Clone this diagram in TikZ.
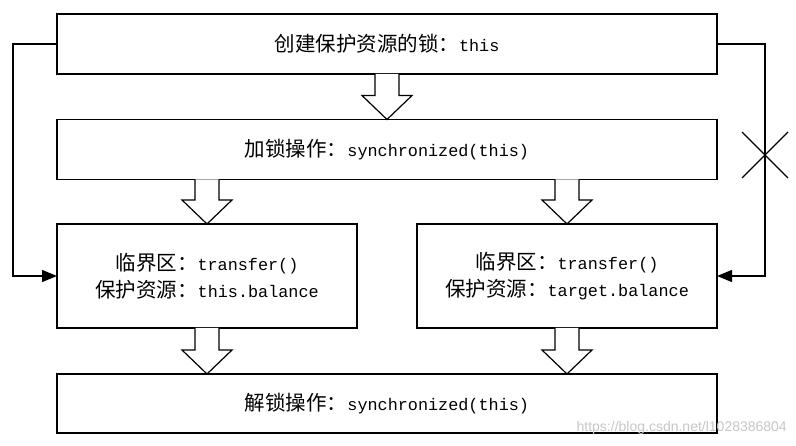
\documentclass[tikz,border=0pt]{standalone}
\usepackage{fontspec}
\setmainfont{Noto Sans CJK SC}
\newfontfamily\monof{Liberation Mono}[Scale=0.82]
\newfontfamily\wmf{Liberation Sans}
\usetikzlibrary{calc,arrows.meta}
\newcommand\lat[1]{{\monof #1}}
\newcommand\blockarr[2]{%
  \draw[blk] ($(#1)+(-12,0)$) -- ($(#2)+(-12,-24)$) -- ($(#2)+(-25,-24)$) -- (#2)
    -- ($(#2)+(25,-24)$) -- ($(#2)+(12,-24)$) -- ($(#1)+(12,0)$);}
\begin{document}
\begin{tikzpicture}[x=1pt,y=-1pt,
  box/.style={draw=black,line width=1.3pt,fill=white,inner sep=0pt,outer sep=0pt,
    minimum height=60pt,align=center,font=\fontsize{20.5}{27}\selectfont},
  blk/.style={draw=black,line width=1.2pt,fill=white,line join=miter},
  conn/.style={draw=black,line width=1.3pt,-{Triangle[length=15pt,width=12pt]}}]
\useasboundingbox (0,0) rectangle (796,446);
\fill[white] (0,0) rectangle (796,446);
\node[box,minimum width=660pt] (top) at (387,44) {创建保护资源的锁：\lat{this}};
\node[box,minimum width=660pt] (lock) at (387,149.5) {加锁操作：\lat{synchronized(this)}};
\node[box,minimum width=300pt,minimum height=104pt] (lm) at (207,276) {临界区：\lat{transfer()}\\保护资源：\lat{this.balance}};
\node[box,minimum width=300pt,minimum height=104pt] (rm) at (567,276) {临界区：\lat{transfer()}\\保护资源：\lat{target.balance}};
\node[box,minimum width=660pt,minimum height=59pt] (unl) at (387,403.5) {解锁操作：\lat{synchronized(this)}};
\blockarr{top.south}{lock.north}
\blockarr{lock.south -| lm.north}{lm.north}
\blockarr{lock.south -| rm.north}{rm.north}
\blockarr{lm.south}{lm.south |- unl.north}
\blockarr{rm.south}{rm.south |- unl.north}
\draw[conn] (top.west) -- ++(-44,0) |- (lm.west);
\draw[conn] (top.east) -- ++(48,0) |- (rm.east);
\coordinate (xm) at ($(top.east)+(48,111)$);
\draw[line width=1.2pt] ($(xm)+(-23,-23)$) -- ($(xm)+(23,23)$)
  ($(xm)+(-23,23)$) -- ($(xm)+(23,-23)$);
\node[font=\wmf\fontsize{14}{14}\selectfont,text=black!22,anchor=east,inner sep=0pt] (wm) at (787,428) {https://blog.csdn.net/l1028386804};
\end{tikzpicture}
\end{document}
